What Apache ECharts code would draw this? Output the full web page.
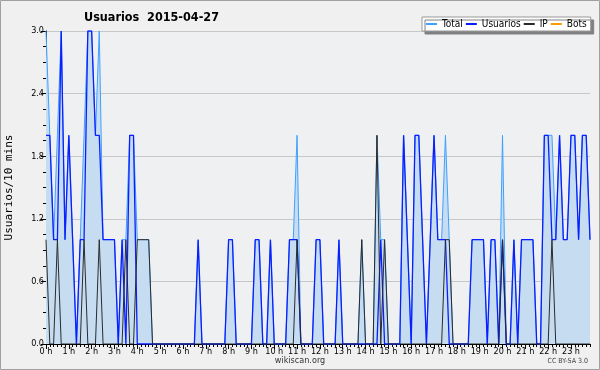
<!DOCTYPE html>
<html>
<head>
<meta charset="utf-8">
<script src="https://cdn.jsdelivr.net/npm/echarts@6/dist/echarts.min.js"></script>
<style>
  html, body { margin: 0; padding: 0; background: #f0f0f0; }
  #chart { width: 600px; height: 370px; }
</style>
</head>
<body>
<div id="chart"></div>
<script>
// one value every 10 minutes, 0:00 -> 23:50
var hourLabels = ['0 h', '1 h', '2 h', '3 h', '4 h', '5 h', '6 h', '7 h', '8 h', '9 h', '10 h', '11 h',
  '12 h', '13 h', '14 h', '15 h', '16 h', '17 h', '18 h', '19 h', '20 h', '21 h', '22 h', '23 h'];
var yTicks = [0, 0.6, 1.2, 1.8, 2.4, 3.0];

var total = [
  3, 2, 1, 2, 3, 1, 2, 1, 0, 1, 2, 3,
  3, 2, 3, 1, 1, 1, 1, 0, 1, 1, 2, 2,
  1, 1, 1, 1, 0, 0, 0, 0, 0, 0, 0, 0,
  0, 0, 0, 0, 1, 0, 0, 0, 0, 0, 0, 0,
  1, 1, 0, 0, 0, 0, 0, 1, 1, 0, 0, 1,
  0, 0, 0, 0, 1, 1, 2, 0, 0, 0, 0, 1,
  1, 0, 0, 0, 0, 1, 0, 0, 0, 0, 0, 1,
  0, 0, 0, 2, 1, 1, 0, 0, 0, 0, 2, 1,
  0, 2, 2, 1, 0, 1, 2, 1, 1, 2, 1, 0,
  0, 0, 0, 0, 1, 1, 1, 1, 0, 1, 1, 0,
  2, 0, 0, 1, 0, 1, 1, 1, 1, 0, 0, 2,
  2, 2, 1, 2, 1, 1, 2, 2, 1, 2, 2, 1
];
var usuarios = [
  2, 2, 1, 1, 3, 1, 2, 1, 0, 1, 1, 3,
  3, 2, 2, 1, 1, 1, 1, 0, 1, 0, 2, 2,
  0, 0, 0, 0, 0, 0, 0, 0, 0, 0, 0, 0,
  0, 0, 0, 0, 1, 0, 0, 0, 0, 0, 0, 0,
  1, 1, 0, 0, 0, 0, 0, 1, 1, 0, 0, 1,
  0, 0, 0, 0, 1, 1, 1, 0, 0, 0, 0, 1,
  1, 0, 0, 0, 0, 1, 0, 0, 0, 0, 0, 0,
  0, 0, 0, 0, 1, 0, 0, 0, 0, 0, 2, 1,
  0, 2, 2, 1, 0, 1, 2, 1, 1, 1, 0, 0,
  0, 0, 0, 0, 1, 1, 1, 1, 0, 1, 1, 0,
  1, 0, 0, 1, 0, 1, 1, 1, 1, 0, 0, 2,
  2, 1, 1, 2, 1, 1, 2, 2, 1, 2, 2, 1
];
var ip = [
  1, 0, 0, 1, 0, 0, 0, 0, 0, 0, 1, 0,
  0, 0, 1, 0, 0, 0, 0, 0, 0, 1, 0, 0,
  1, 1, 1, 1, 0, 0, 0, 0, 0, 0, 0, 0,
  0, 0, 0, 0, 0, 0, 0, 0, 0, 0, 0, 0,
  0, 0, 0, 0, 0, 0, 0, 0, 0, 0, 0, 0,
  0, 0, 0, 0, 0, 0, 1, 0, 0, 0, 0, 0,
  0, 0, 0, 0, 0, 0, 0, 0, 0, 0, 0, 1,
  0, 0, 0, 2, 0, 1, 0, 0, 0, 0, 0, 0,
  0, 0, 0, 0, 0, 0, 0, 0, 0, 1, 1, 0,
  0, 0, 0, 0, 0, 0, 0, 0, 0, 0, 0, 0,
  1, 0, 0, 0, 0, 0, 0, 0, 0, 0, 0, 0,
  0, 1, 0, 0, 0, 0, 0, 0, 0, 0, 0, 0
];
var bots = []; // no bot edits that day

// 6 slots per hour, label only on the full hour
var slots = [];
hourLabels.forEach(function (h) {
  slots.push(h, '', '', '', '', '');
});

var FONT = '"DejaVu Sans Condensed", "DejaVu Sans", sans-serif';

var chart = echarts.init(document.getElementById('chart'), null, { renderer: 'canvas' });

chart.setOption({
  backgroundColor: '#f0f0f0',
  animation: false,
  title: {
    text: 'Usuarios  2015-04-27',
    left: 84,
    top: 11,
    padding: 0,
    textStyle: { fontFamily: FONT, fontWeight: 'bold', fontSize: 12.5, color: '#000' }
  },
  legend: {
    left: 422,
    top: 17,
    padding: [2, 4, 2, 4],
    itemWidth: 11,
    itemHeight: 2,
    itemGap: 3,
    icon: 'rect',
    backgroundColor: '#fff',
    borderColor: '#999',
    borderWidth: 1,
    shadowColor: '#808080',
    shadowOffsetX: 3,
    shadowOffsetY: 3,
    shadowBlur: 0,
    textStyle: { fontFamily: FONT, fontSize: 10, color: '#000' },
    data: ['Total', 'Usuarios', 'IP', 'Bots']
  },
  grid: {
    left: 46, right: 10, top: 31, bottom: 26,
    outerBoundsMode: 'none', containLabel: false,
    show: true, backgroundColor: '#eff0f2', borderWidth: 0
  },
  xAxis: [{
    type: 'category',
    data: slots,
    boundaryGap: false,
    axisLine: { lineStyle: { color: '#000', width: 1 } },
    axisTick: { interval: 0, length: 3, lineStyle: { color: '#000' } },
    axisLabel: { interval: 0, fontFamily: FONT, fontSize: 9, color: '#000', margin: 3 },
    splitLine: { show: false }
  }, {
    type: 'category',
    data: slots,
    boundaryGap: false,
    position: 'bottom',
    axisLine: { show: false },
    axisTick: { interval: 5, length: 5, lineStyle: { color: '#000' } },
    axisLabel: { show: false },
    splitLine: { show: false }
  }],
  yAxis: {
    type: 'value',
    min: yTicks[0],
    max: yTicks[yTicks.length - 1],
    interval: 0.6,
    name: 'Usuarios/10 mins',
    nameLocation: 'middle',
    nameRotate: 90,
    nameGap: 31,
    nameTextStyle: { fontFamily: '"DejaVu Sans Mono", monospace', fontSize: 11, color: '#000' },
    axisLine: { show: true, lineStyle: { color: '#000' } },
    axisTick: { show: true, length: 5, lineStyle: { color: '#000' } },
    minorTick: { show: true, splitNumber: 4, length: 3, lineStyle: { color: '#000' } },
    axisLabel: {
      fontFamily: FONT, fontSize: 9, color: '#000', margin: 2,
      formatter: function (v) { return v.toFixed(1); }
    },
    splitLine: { show: true, lineStyle: { color: '#c8c8c8', width: 1 } }
  },
  series: [{
    name: 'Total',
    type: 'line',
    data: total,
    showSymbol: false,
    z: 1,
    lineStyle: { color: '#3fa0ff', width: 1 },
    itemStyle: { color: '#3fa0ff' },
    areaStyle: { color: '#c6ddf1', opacity: 1 }
  }, {
    name: 'Usuarios',
    type: 'line',
    data: usuarios,
    showSymbol: false,
    z: 3,
    lineStyle: { color: '#0a1eff', width: 1.3 },
    itemStyle: { color: '#0a1eff' }
  }, {
    name: 'IP',
    type: 'line',
    data: ip,
    showSymbol: false,
    z: 4,
    lineStyle: { color: '#2b2b2b', width: 1 },
    itemStyle: { color: '#2b2b2b' }
  }, {
    name: 'Bots',
    type: 'line',
    data: bots,
    showSymbol: false,
    z: 0,
    lineStyle: { color: '#ff9a00', width: 1 },
    itemStyle: { color: '#ff9a00' }
  }],
  graphic: [{
    type: 'rect',
    shape: { x: 0.5, y: 0.5, width: 599, height: 369 },
    style: { fill: 'none', stroke: '#a0a0a0', lineWidth: 1 },
    silent: true
  }, {
    type: 'text',
    left: 'center',
    top: 356,
    style: { text: 'wikiscan.org', fontFamily: FONT, fontSize: 9, fill: '#333' }
  }, {
    type: 'text',
    right: 12,
    top: 358,
    style: { text: 'CC BY-SA 3.0', fontFamily: FONT, fontSize: 7, fill: '#444' }
  }]
});
</script>
</body>
</html>
